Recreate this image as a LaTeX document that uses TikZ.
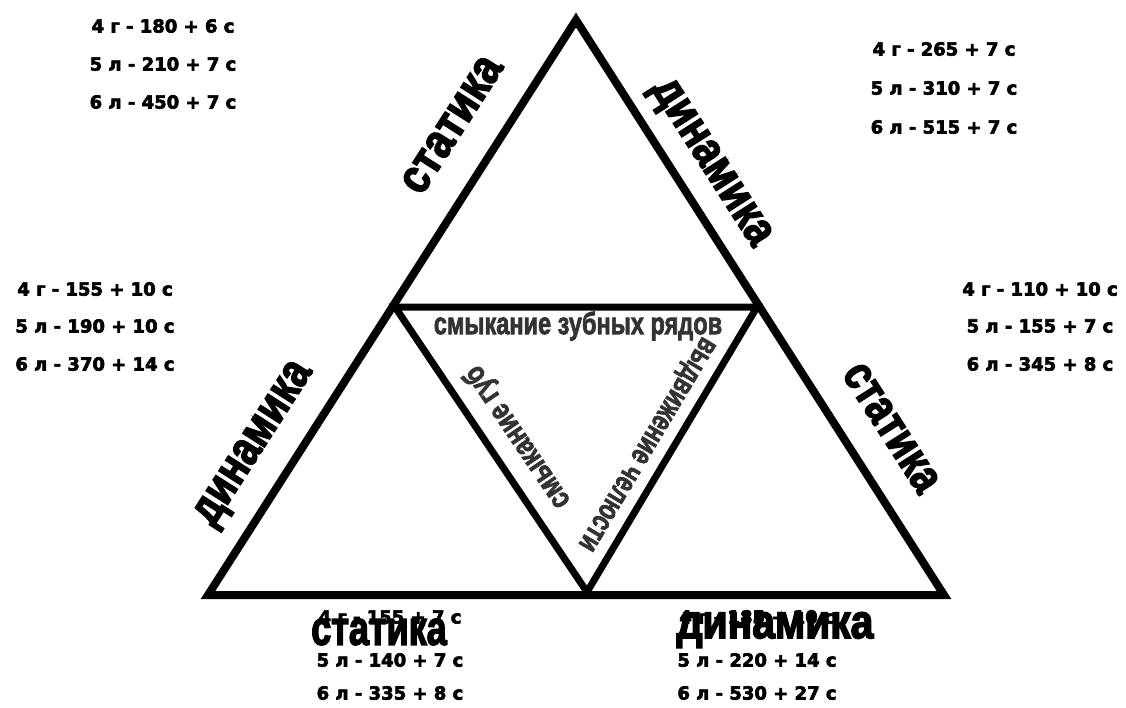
\documentclass[tikz,border=0pt]{standalone}
\usepackage{fontspec}
\setmainfont{Liberation Sans}
\newfontfamily\numfont[FakeBold=3.5]{DejaVu Sans Bold}
\newfontfamily\heavyfont[FakeBold=3.5]{Liberation Sans Bold}
\newfontfamily\contactfont[FakeBold=2.5]{Liberation Sans Bold}
\begin{document}
\begin{tikzpicture}[x=1pt, y=-1pt,
            side/.style={line width=8pt, line join=miter},
            innerside/.style={line width=7pt, line join=miter},
            score/.style={font=\numfont\fontsize{18}{18}\selectfont, inner sep=0pt},
            mode/.style={font=\heavyfont\fontsize{48}{48}\selectfont, inner sep=0pt, transform shape},
            contact/.style={font=\contactfont\fontsize{31}{31}\selectfont, text=black!80, inner sep=0pt, transform shape}
            ]
            \useasboundingbox (0,0) rectangle (1126,707);
            \coordinate (top) at (576,20);
            \coordinate (bl) at (208,595);
            \coordinate (br) at (944,595);
            \coordinate (il) at (395,307);
            \coordinate (ir) at (757,307);
            \coordinate (ib) at (587,592);
            \draw[side] (top)--(bl)--(br)--cycle;
            \draw[innerside] (il)--(ir)--(ib)--cycle;

            % labels along the sides
            \node[mode, rotate=57.4, xscale=0.85] (ulstat) at (452,125) {статика};
            \node[mode, rotate=-57.4, xscale=0.82] (urdyn) at (709,164) {динамика};
            \node[mode, rotate=57.4, xscale=0.8] (ldyn) at (256,445) {динамика};
            \node[mode, rotate=-57.4, xscale=0.8] (rstat) at (891,428) {статика};
            \node[mode, xscale=0.75] (bstat) at (379,632) {статика};
            \node[mode, xscale=0.85] (bdyn) at (775,630) {динамика};

            % inner triangle
            \node[contact, xscale=0.76] (rows) at (578,326) {смыкание зубных рядов};
            \node[contact, rotate=124, xscale=0.78] (lips) at (518,437) {смыкание губ};
            \node[contact, rotate=-120.8, xscale=0.72] (jaw) at (645,443) {выдвижение челюсти};

            % counts
            \node[score] (ul4) at (163,26) {4 г - 180 + 6 с};
            \node[score] (ul5) at (163,64) {5 л - 210 + 7 с};
            \node[score] (ul6) at (163,102) {6 л - 450 + 7 с};
            \node[score] (ur4) at (944,49) {4 г - 265 + 7 с};
            \node[score] (ur5) at (944,88) {5 л - 310 + 7 с};
            \node[score] (ur6) at (944,127) {6 л - 515 + 7 с};
            \node[score] (l4) at (95,289) {4 г - 155 + 10 с};
            \node[score] (l5) at (95,326) {5 л - 190 + 10 с};
            \node[score] (l6) at (95,364) {6 л - 370 + 14 с};
            \node[score] (r4) at (1040,289) {4 г - 110 + 10 с};
            \node[score] (r5) at (1040,326) {5 л - 155 + 7 с};
            \node[score] (r6) at (1040,364) {6 л - 345 + 8 с};
            \node[score] (bl4) at (390,617) {4 г - 155 + 7 с};
            \node[score] (bl5) at (390,660) {5 л - 140 + 7 с};
            \node[score] (bl6) at (390,693) {6 л - 335 + 8 с};
            \node[score] (br4) at (757,617) {4 г - 185 + 10 с};
            \node[score] (br5) at (757,660) {5 л - 220 + 14 с};
            \node[score] (br6) at (757,693) {6 л - 530 + 27 с};
            \end{tikzpicture}
\end{document}
